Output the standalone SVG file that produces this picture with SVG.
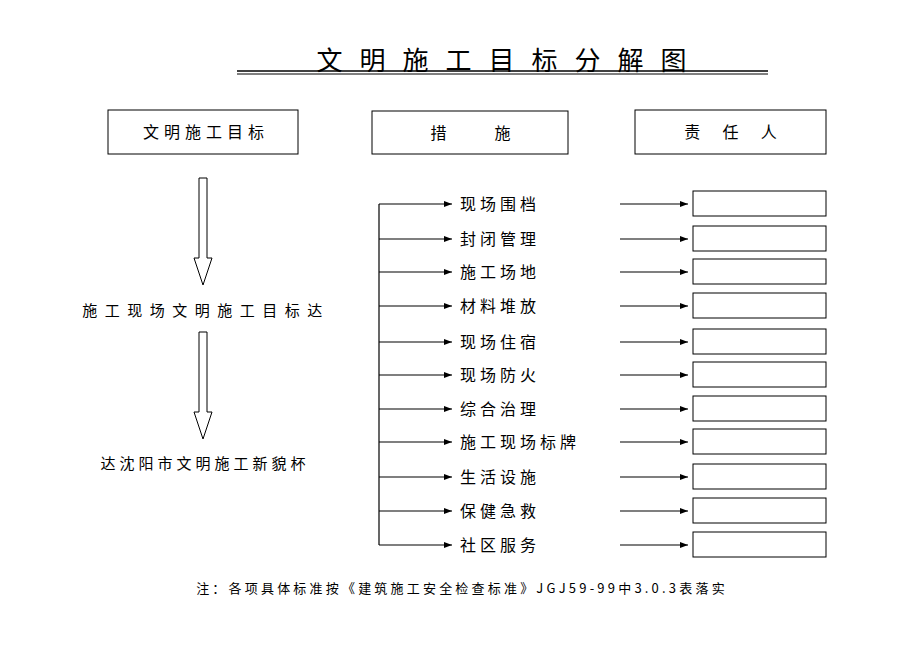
<svg xmlns="http://www.w3.org/2000/svg" width="920" height="651" viewBox="0 0 920 651">
<defs><marker id="ah" markerWidth="8" markerHeight="8" refX="8" refY="4" orient="auto" markerUnits="userSpaceOnUse"><path d="M0,1 L8,4 L0,7 Z" fill="#000"/></marker></defs>
<style>
text{font-family:"Noto Sans CJK SC","Liberation Serif",serif;fill:#000}
.b{fill:#fff;stroke:#000;stroke-width:1}
.t{font-size:16px;letter-spacing:4px}
.h{font-size:16px;letter-spacing:5px}
.c{stroke:#000;stroke-width:1.2;fill:none}
</style>
<rect width="920" height="651" fill="#fff"/>
<g id="title">
<text x="510" y="70" text-anchor="middle" font-size="26" letter-spacing="17">文明施工目标分解图</text>
<line x1="237" y1="71" x2="768" y2="71" stroke="#000" stroke-width="1.5"/>
<line x1="237" y1="74" x2="768" y2="74" stroke="#000" stroke-width="1"/>
</g>
<g id="h1"><rect class="b" x="108" y="110" width="190" height="44"/><text class="h" x="206" y="138" text-anchor="middle">文明施工目标</text></g>
<g id="h2"><rect class="b" x="372" y="111" width="196" height="43"/><text class="h" x="473" y="139" text-anchor="middle" xml:space="preserve">措     施</text></g>
<g id="h3"><rect class="b" x="635" y="110" width="191" height="44"/><text class="h" x="733" y="138" text-anchor="middle" xml:space="preserve">责  任  人</text></g>
<g id="goal1"><text x="206" y="316" text-anchor="middle" font-size="15" letter-spacing="7.5">施工现场文明施工目标达</text></g>
<g id="goal2"><text x="205" y="469" text-anchor="middle" font-size="15" letter-spacing="4">达沈阳市文明施工新貌杯</text></g>
<g id="connectors">
<path class="b" d="M199,178 H207 V258 H212 L203,285 L194,258 H199 Z"/>
<path class="b" d="M199,332 H207 V412 H212 L203,439 L194,412 H199 Z"/>
<line class="c" x1="379" y1="204" x2="379" y2="545"/>
<g marker-end="url(#ah)" class="c">
<line x1="379" y1="204" x2="452" y2="204"/><line x1="379" y1="239" x2="452" y2="239"/><line x1="379" y1="272" x2="452" y2="272"/><line x1="379" y1="306" x2="452" y2="306"/><line x1="379" y1="342" x2="452" y2="342"/><line x1="379" y1="375" x2="452" y2="375"/><line x1="379" y1="409" x2="452" y2="409"/><line x1="379" y1="442" x2="452" y2="442"/><line x1="379" y1="477" x2="452" y2="477"/><line x1="379" y1="511" x2="452" y2="511"/><line x1="379" y1="545" x2="452" y2="545"/>
<line x1="620" y1="204" x2="688" y2="204"/><line x1="620" y1="239" x2="688" y2="239"/><line x1="620" y1="272" x2="688" y2="272"/><line x1="620" y1="306" x2="688" y2="306"/><line x1="620" y1="342" x2="688" y2="342"/><line x1="620" y1="375" x2="688" y2="375"/><line x1="620" y1="409" x2="688" y2="409"/><line x1="620" y1="442" x2="688" y2="442"/><line x1="620" y1="477" x2="688" y2="477"/><line x1="620" y1="511" x2="688" y2="511"/><line x1="620" y1="545" x2="688" y2="545"/>
</g>
</g>
<g id="items" class="t">
<text x="460" y="210">现场围档</text><text x="460" y="245">封闭管理</text><text x="460" y="278">施工场地</text><text x="460" y="312">材料堆放</text><text x="460" y="348">现场住宿</text><text x="460" y="381">现场防火</text><text x="460" y="415">综合治理</text><text x="460" y="448">施工现场标牌</text><text x="460" y="483">生活设施</text><text x="460" y="517">保健急救</text><text x="460" y="551">社区服务</text>
</g>
<g id="resp">
<rect class="b" x="693" y="191" width="133" height="25"/><rect class="b" x="693" y="226" width="133" height="25"/><rect class="b" x="693" y="259" width="133" height="25"/><rect class="b" x="693" y="293" width="133" height="25"/><rect class="b" x="693" y="329" width="133" height="25"/><rect class="b" x="693" y="362" width="133" height="25"/><rect class="b" x="693" y="396" width="133" height="25"/><rect class="b" x="693" y="429" width="133" height="25"/><rect class="b" x="693" y="464" width="133" height="25"/><rect class="b" x="693" y="498" width="133" height="25"/><rect class="b" x="693" y="532" width="133" height="25"/>
</g>
<g id="note"><text x="462" y="593" text-anchor="middle" font-size="13" letter-spacing="3.2">注：各项具体标准按《建筑施工安全检查标准》JGJ59-99中3.0.3表落实</text></g>
</svg>
